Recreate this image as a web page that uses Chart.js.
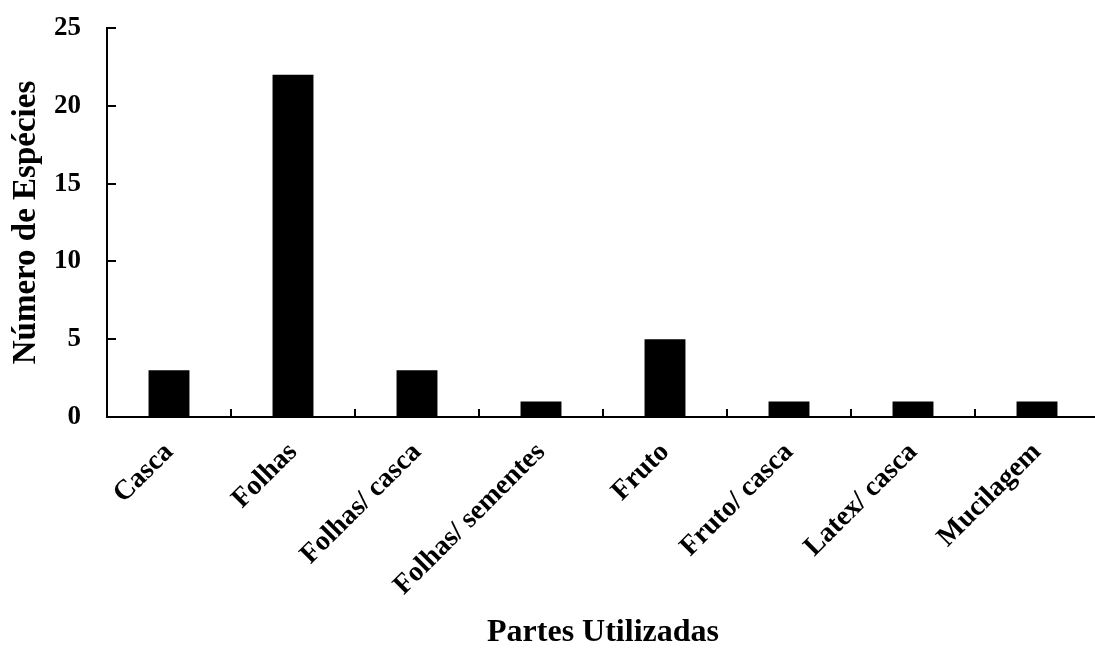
<!DOCTYPE html>
<html>
<head>
<meta charset="utf-8">
<script src="https://cdn.jsdelivr.net/npm/chart.js@4"></script>
<style>
  html, body { margin: 0; padding: 0; overflow: hidden; background: #fff; }
</style>
</head>
<body>
<canvas id="partesChart" width="1100" height="649"></canvas>
<script>
const categories = ["Casca", "Folhas", "Folhas/ casca", "Folhas/ sementes", "Fruto", "Fruto/ casca", "Latex/ casca", "Mucilagem"];
const especies = [3, 22, 3, 1, 5, 1, 1, 1];
const yTicks = [0, 5, 10, 15, 20, 25];

const serif = "'Liberation Serif', 'Times New Roman', serif";

// tick marks drawn inward, like the original
const innerTicks = {
  id: "innerTicks",
  afterDatasetsDraw(chart) {
    const ctx = chart.ctx;
    const x = chart.scales.x;
    const y = chart.scales.y;
    ctx.save();
    ctx.strokeStyle = "#000";
    ctx.lineWidth = 2;
    ctx.beginPath();
    yTicks.forEach(v => {
      const py = Math.round(y.getPixelForValue(v));
      ctx.moveTo(x.left, py);
      ctx.lineTo(x.left + 9, py);
    });
    for (let i = 0; i < categories.length - 1; i++) {
      const px = Math.round((x.getPixelForValue(i) + x.getPixelForValue(i + 1)) / 2);
      ctx.moveTo(px, y.bottom);
      ctx.lineTo(px, y.bottom - 8);
    }
    ctx.stroke();
    ctx.restore();
  }
};

new Chart(document.getElementById("partesChart"), {
  type: "bar",
  data: {
    labels: categories,
    datasets: [{
      label: "Número de Espécies",
      backgroundColor: "#000",
      borderWidth: 0,
      data: especies,
      categoryPercentage: 1,
      barPercentage: 0.33,
    }],
  },
  options: {
    responsive: false,
    animation: false,
    layout: { padding: { left: 10, top: 28, right: 1, bottom: 0 } },
    plugins: {
      legend: { display: false },
      tooltip: { enabled: false },
    },
    scales: {
      x: {
        grid: { display: false, drawTicks: false },
        border: { display: true, color: "#000", width: 2 },
        ticks: {
          color: "#000",
          minRotation: 45,
          maxRotation: 45,
          padding: 19,
          font: { family: serif, size: 28, weight: "bold" },
        },
        afterFit(scale) {
          scale.height = 232;
        },
        title: {
          display: true,
          text: "Partes Utilizadas",
          color: "#000",
          padding: 0,
          font: { family: serif, size: 32, weight: "bold", lineHeight: 1 },
        },
      },
      y: {
        min: 0,
        max: 25,
        grid: { display: false, drawTicks: false },
        border: { display: true, color: "#000", width: 2 },
        ticks: {
          stepSize: 5,
          color: "#000",
          padding: 26,
          font: { family: serif, size: 27, weight: "bold" },
        },
        afterFit(scale) {
          scale.width = 97;
          scale.paddingTop = 14;
          scale.paddingBottom = 14;
        },
        title: {
          display: true,
          text: "Número de Espécies",
          color: "#000",
          padding: 0,
          font: { family: serif, size: 33, weight: "bold", lineHeight: 1 },
        },
      },
    },
  },
  plugins: [innerTicks],
});
</script>
</body>
</html>
